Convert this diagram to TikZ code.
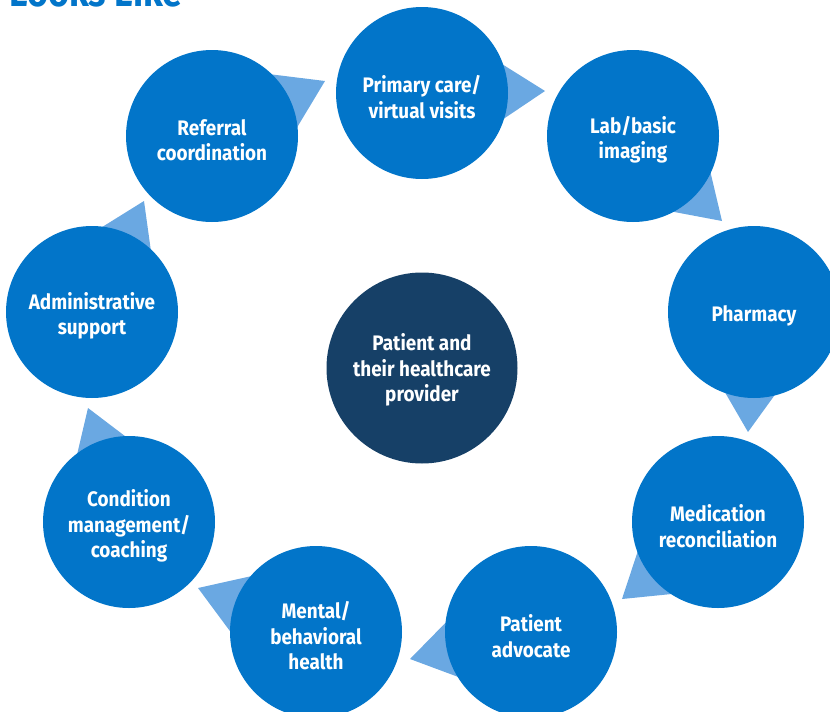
\documentclass[tikz,border=0pt]{standalone}
\usepackage{fontspec}
\setmainfont{Fira Sans}[FakeStretch=0.9]
\usetikzlibrary{calc,backgrounds}
\definecolor{ringblue}{HTML}{0275C9}
\definecolor{arrowblue}{HTML}{6AA8E2}
\definecolor{hubnavy}{HTML}{164067}
\tikzset{
  ringtext/.style={text=white,align=center,inner sep=0pt,yshift=-4pt,
    font=\fontsize{21}{25.5}\selectfont\bfseries}
}

\begin{document}
\begin{tikzpicture}[x=1pt,y=-1pt]
        \useasboundingbox (0,0) rectangle (830,712);

        \node[anchor=base west,text=ringblue,font=\fontsize{40}{40}\selectfont\bfseries] (heading) at (6,6) {Looks Like};

        \begin{scope}[every node/.style={circle,fill=ringblue,minimum size=172pt,inner sep=0pt}]
          \node[label={[ringtext]center:Primary care/\\virtual visits}]          (primary)    at (422,93)  {};
          \node[label={[ringtext]center:Lab/basic\\imaging}]                     (lab)        at (633,136) {};
          \node[label={[ringtext]center:Pharmacy}]                               (pharmacy)   at (754,312) {};
          \node[label={[ringtext]center:Medication\\reconciliation}]             (medication) at (718,522) {};
          \node[label={[ringtext]center:Patient\\advocate}]                      (advocate)   at (531,632) {};
          \node[label={[ringtext]center:Mental/\\behavioral\\health}]            (mental)     at (316,632) {};
          \node[label={[ringtext]center:Condition\\management/\\coaching}]       (condition)  at (129,522) {};
          \node[label={[ringtext]center:Administrative\\support}]                (admin)      at (92,312)  {};
          \node[label={[ringtext]center:Referral\\coordination}]                 (referral)   at (212,136) {};
          \node[fill=hubnavy,minimum size=191pt,
                label={[ringtext,yshift=2pt]center:Patient and\\their healthcare\\provider}] (hub) at (422,368) {};
        \end{scope}

        % arrow tips between the circles
        \coordinate (t1) at (325,81);
        \coordinate (t2) at (545,91);
        \coordinate (t3) at (722,221);
        \coordinate (t4) at (748,432);
        \coordinate (t5) at (622,599);
        \coordinate (t6) at (410,659);
        \coordinate (t7) at (198,588);
        \coordinate (t8) at (88,408);
        \coordinate (t9) at (144,201);

        \begin{scope}[on background layer]
          \foreach \src/\tip in {referral/t1,primary/t2,lab/t3,pharmacy/t4,medication/t5,
                                 advocate/t6,mental/t7,condition/t8,admin/t9}
            \fill[arrowblue] (\tip) -- ($(\tip)!1!33:(\src.center)$) -- ($(\tip)!1!-33:(\src.center)$) -- cycle;
        \end{scope}

      \end{tikzpicture}
\end{document}
